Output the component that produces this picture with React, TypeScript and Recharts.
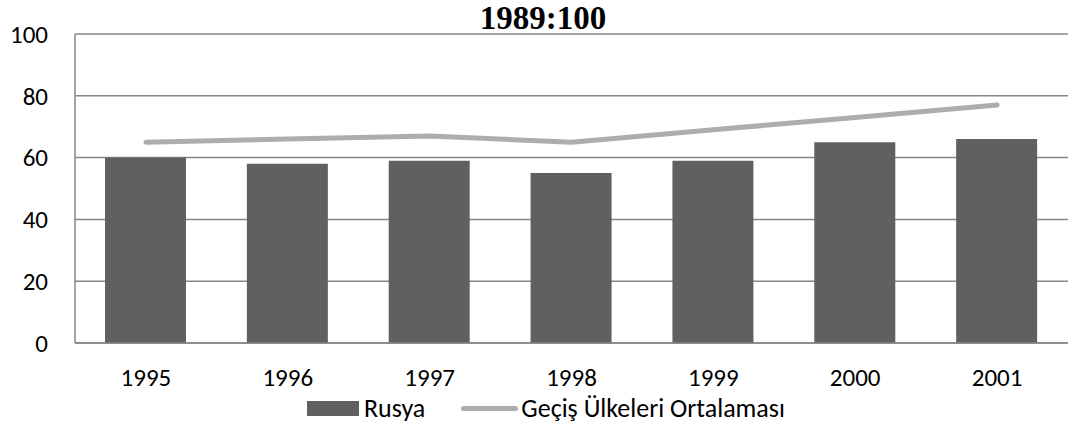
import React from "react";
import { ComposedChart, Bar, Line, XAxis, YAxis, CartesianGrid, Legend } from "recharts";

const years = ["1995", "1996", "1997", "1998", "1999", "2000", "2001"];
const rusya = [60, 58, 59, 55, 59, 65, 66];
const gecis = [65, 66, 67, 65, 69, 73, 77];
const yTicks = [0, 20, 40, 60, 80, 100];
const legendOrder = ["Rusya", "Geçiş Ülkeleri Ortalaması"];

const data = years.map((y, i) => ({ year: y, rusya: rusya[i], gecis: gecis[i] }));

const FONT = "Carlito, 'Liberation Sans', Arial, sans-serif";

const LegendContent = (props: any) => {
  const payload = [...(props.payload || [])].sort(
    (a: any, b: any) => legendOrder.indexOf(a.value) - legendOrder.indexOf(b.value)
  );
  return (
    <div style={{ display: "flex", justifyContent: "flex-start", alignItems: "center", fontFamily: FONT, fontSize: 26, color: "#000", paddingLeft: 307, height: 22 }}>
      {payload.map((p: any, i: number) => (
        <div key={i} style={{ display: "flex", alignItems: "center", marginRight: i === 0 ? 36 : 0 }}>
          {p.type === "rect" ? (
            <div style={{ width: 52, height: 15, background: p.color, marginRight: 5 }} />
          ) : (
            <div style={{ width: 57, height: 5, borderRadius: 3, background: p.color, marginRight: 3 }} />
          )}
          <span style={{ lineHeight: "22px" }}>{p.value}</span>
        </div>
      ))}
    </div>
  );
};

export default function App() {
  return (
    <div style={{ position: "absolute", left: 0, top: 0, width: 1070, height: 426, background: "#fff", overflow: "hidden" }}>
      <div
        style={{
          position: "absolute",
          left: 0,
          width: 1086,
          top: -1,
          textAlign: "center",
          fontFamily: "'Liberation Serif', 'Times New Roman', serif",
          fontWeight: "bold",
          fontSize: 33,
          lineHeight: "38px",
          color: "#000",
        }}
      >
        1989:100
      </div>
      <ComposedChart
        width={1070}
        height={426}
        data={data}
        margin={{ top: 34, right: 2, bottom: 16, left: 0 }}
        barCategoryGap={0}
      >
        <CartesianGrid vertical={false} stroke="#868686" strokeWidth={1.5} />
        <XAxis
          dataKey="year"
          axisLine={{ stroke: "#868686", strokeWidth: 1.5 }}
          tickLine={false}
          tickSize={0}
          tickMargin={25}
          height={45}
          tick={{ fill: "#000", fontSize: 25, fontFamily: FONT }}
        />
        <YAxis
          domain={[0, 100]}
          ticks={yTicks}
          width={75}
          axisLine={{ stroke: "#868686", strokeWidth: 1.5 }}
          tickLine={false}
          tickSize={0}
          tickMargin={27}
          tick={{ fill: "#000", fontSize: 25, fontFamily: FONT }}
          interval={0}
        />
        <Legend
          content={<LegendContent />}
          wrapperStyle={{ position: "absolute", top: 397, left: 0, width: 1070, height: 22 }}
        />
        <Bar dataKey="rusya" name="Rusya" fill="#606060" barSize={81} isAnimationActive={false} />
        <Line
          dataKey="gecis"
          name="Geçiş Ülkeleri Ortalaması"
          stroke="#ADADAD"
          strokeWidth={5}
          strokeLinecap="round"
          strokeLinejoin="round"
          dot={false}
          activeDot={false}
          type="linear"
          isAnimationActive={false}
        />
      </ComposedChart>
    </div>
  );
}
